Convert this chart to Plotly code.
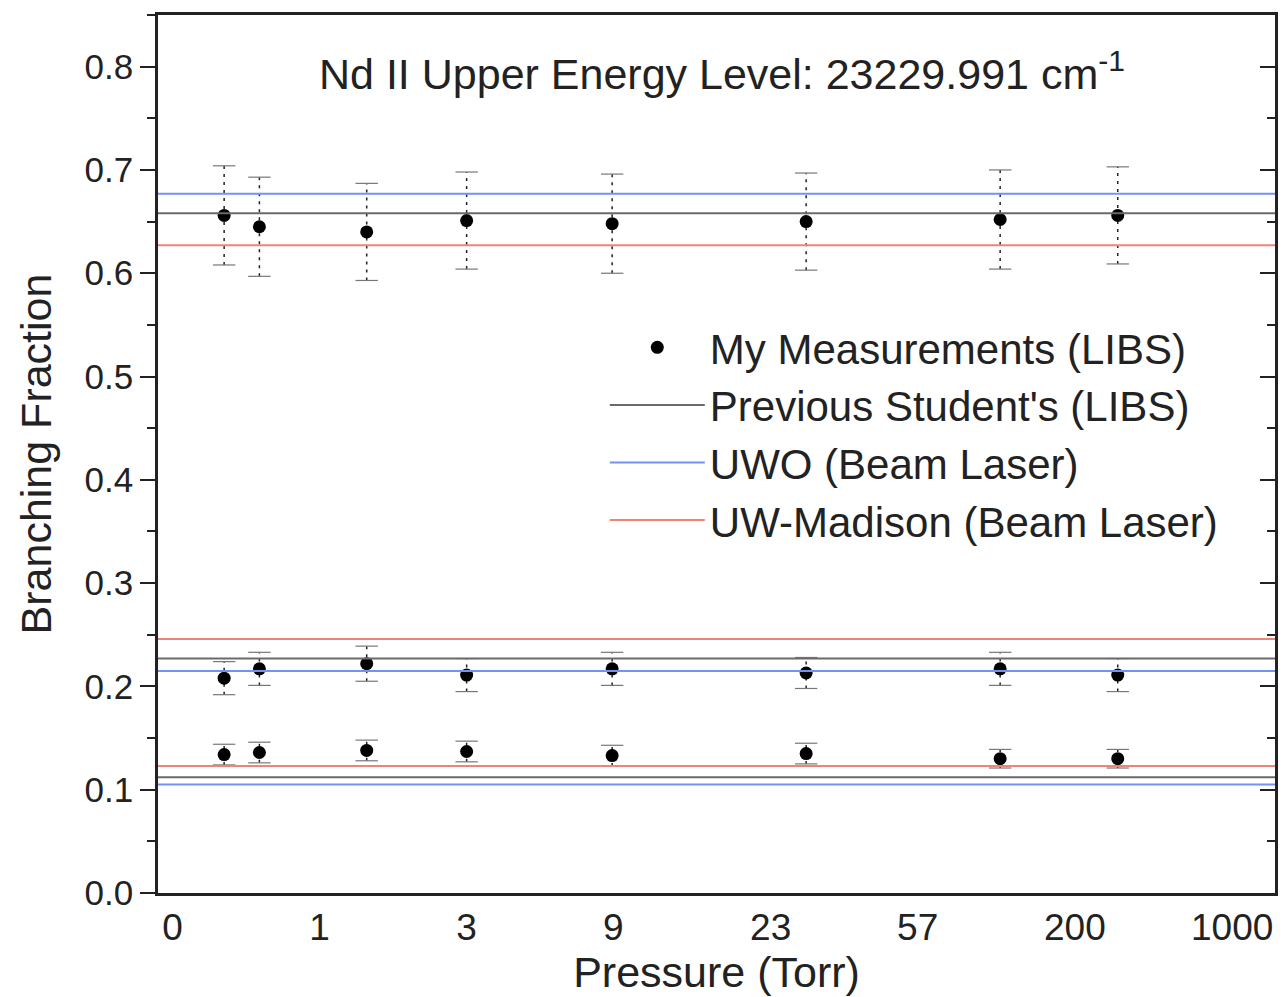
import plotly.graph_objects as go

# ---- data ----
tick_labels = ["0", "1", "3", "9", "23", "57", "200", "1000"]
tick_pos = [0, 1, 2, 3, 4, 5, 6, 7]
x_pos = [0.43, 0.67, 1.40, 2.08, 3.07, 4.39, 5.71, 6.51]

upper_bf = [0.656, 0.645, 0.640, 0.651, 0.648, 0.650, 0.652, 0.656]
upper_err = [0.048, 0.048, 0.047, 0.047, 0.048, 0.047, 0.048, 0.047]
middle_bf = [0.208, 0.217, 0.222, 0.211, 0.217, 0.213, 0.217, 0.211]
middle_err = [0.016, 0.016, 0.017, 0.016, 0.016, 0.015, 0.016, 0.016]
lower_bf = [0.134, 0.136, 0.138, 0.137, 0.133, 0.135, 0.130, 0.130]
lower_err = [0.010, 0.010, 0.010, 0.010, 0.010, 0.010, 0.009, 0.009]

prev_student = [0.658, 0.227, 0.112]
uwo = [0.677, 0.215, 0.105]
uw_madison = [0.627, 0.246, 0.123]

x_range = [-0.02, 7.58]
y_range = [0.0, 0.85]

FONT = "Liberation Sans, Arial, sans-serif"

fig = go.Figure()

# error bars (dashed) and caps
ex, ey, cx, cy = [], [], [], []
for ys, es in [(upper_bf, upper_err), (middle_bf, middle_err), (lower_bf, lower_err)]:
    for x, y, e in zip(x_pos, ys, es):
        ex += [x, x, None]
        ey += [y - e, y + e, None]
        cx += [x, x]
        cy += [y - e, y + e]
fig.add_trace(go.Scatter(x=ex, y=ey, mode="lines", showlegend=False, hoverinfo="skip",
                         line=dict(color="#222222", width=1.5, dash="3px,5px")))
fig.add_trace(go.Scatter(x=cx, y=cy, mode="markers", showlegend=False, hoverinfo="skip",
                         marker=dict(symbol="line-ew", size=16,
                                     line=dict(color="#777777", width=1.2))))


def hlines(vals):
    xs, ys = [], []
    for v in vals:
        xs += [x_range[0], x_range[1], None]
        ys += [v, v, None]
    return xs, ys


# measurement points
allx = x_pos * 3
ally = upper_bf + middle_bf + lower_bf
fig.add_trace(go.Scatter(x=allx, y=ally, mode="markers", name="My Measurements (LIBS)",
                         marker=dict(color="black", size=13)))

for vals, name, color in [(prev_student, "Previous Student's (LIBS)", "#6a6a6a"),
                          (uwo, "UWO (Beam Laser)", "#7393f2"),
                          (uw_madison, "UW-Madison (Beam Laser)", "#f08378")]:
    xs, ys = hlines(vals)
    fig.add_trace(go.Scatter(x=xs, y=ys, mode="lines", name=name,
                             line=dict(color=color, width=2)))

# dummy trace for right axis
fig.add_trace(go.Scatter(x=[None], y=[None], yaxis="y2", showlegend=False, hoverinfo="skip"))

fig.update_layout(
    width=1287, height=997,
    margin=dict(l=158, r=12, t=12, b=104),
    paper_bgcolor="white", plot_bgcolor="white",
    font=dict(family=FONT, color="#222222", size=36),
    xaxis=dict(range=x_range, tickvals=tick_pos, ticktext=tick_labels,
               ticklabelposition="outside right", ticks="", showgrid=False, zeroline=False,
               showline=True, linecolor="#222222", linewidth=2.5, mirror=True,
               tickfont=dict(size=37),
               title=dict(text="Pressure (Torr)", font=dict(size=43), standoff=0)),
    yaxis=dict(range=y_range, dtick=0.1, tickformat=".1f", ticks="outside", ticklen=15,
               tickwidth=2, tickcolor="#222222", showgrid=False, zeroline=False,
               showline=True, linecolor="#222222", linewidth=2.5,
               minor=dict(dtick=0.05, ticks="outside", ticklen=8, tickwidth=2, tickcolor="#222222"),
               tickfont=dict(size=35),
               title=dict(text="Branching Fraction", font=dict(size=43), standoff=20)),
    yaxis2=dict(range=y_range, dtick=0.1, overlaying="y", side="right", ticks="inside",
                ticklen=15, tickwidth=2, tickcolor="#222222", showticklabels=False,
                showgrid=False, zeroline=False, showline=True, linecolor="#222222", linewidth=2.5,
                minor=dict(dtick=0.05, ticks="inside", ticklen=8, tickwidth=2, tickcolor="#222222")),
    legend=dict(x=0.40, y=0.66, xanchor="left", yanchor="top", bgcolor="rgba(0,0,0,0)",
                font=dict(size=42), itemwidth=95, tracegroupgap=0),
    showlegend=True,
    annotations=[dict(text="Nd II Upper Energy Level: 23229.991 cm<sup>-1</sup>",
                      xref="paper", yref="paper", x=0.505, y=0.936, xanchor="center",
                      yanchor="middle", showarrow=False, font=dict(size=43))],
)

fig.write_html("out.html", config={"displayModeBar": False},
               post_script="document.body.style.margin='0';")
